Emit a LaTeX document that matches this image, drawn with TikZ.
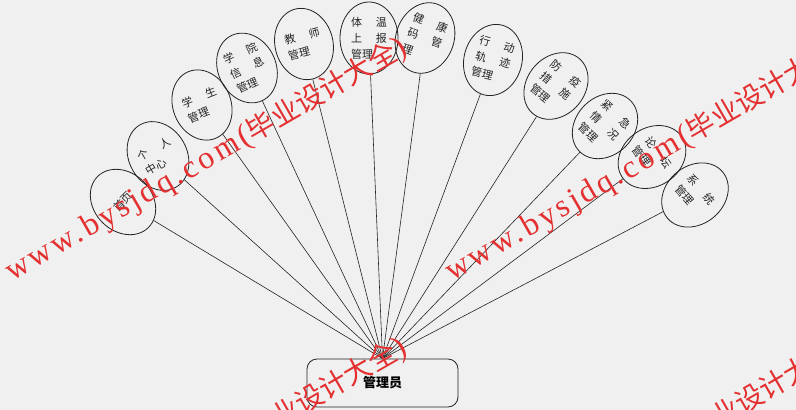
\documentclass[tikz,border=0pt]{standalone}
\usepackage{fontspec}
\setmainfont{Noto Sans CJK SC}
\newfontfamily\wmlat[LetterSpace=10]{Liberation Serif}
\newfontfamily\wmcjk{Noto Sans CJK SC}
\usetikzlibrary{shapes.geometric}
\definecolor{bg}{RGB}{240,240,240}
\definecolor{wm}{RGB}{228,48,48}
\definecolor{ln}{RGB}{35,35,35}
\begin{document}
\begin{tikzpicture}[x=1pt,y=-1pt,
  ent/.style={draw=ln, line width=0.8pt, ellipse, minimum width=58pt, minimum height=72pt, inner sep=0pt, align=left, font=\fontsize{11}{16}\selectfont, text=ln},
  con/.style={draw=ln, line width=0.6pt},
  wmark/.style={text=wm, anchor=base west, font=\fontsize{32}{32}\selectfont, inner sep=0pt}
]
\fill[bg] (0,0) rectangle (796,410);
\useasboundingbox (0,0) rectangle (796,410);
\node[draw=ln, line width=0.8pt, rounded corners=10pt, minimum width=151pt, minimum height=48pt, font=\fontsize{13}{13}\selectfont\bfseries] (admin) at (382.5,383) {管理员};
\node[ent, rotate=45] (e1) at (123,202) {首页};
\node[ent, rotate=30] (e2) at (158,156) {个\hspace{14pt}人\\中心};
\node[ent, rotate=22] (e3) at (202,105) {学\hspace{14pt}生\\管理};
\node[ent, rotate=25] (e4) at (247,68) {学\hspace{14pt}院\\信\hspace{14pt}息\\管理};
\node[ent, rotate=14] (e5) at (304,44) {教\hspace{14pt}师\\管理};
\node[ent, rotate=0] (e6) at (369,38) {体\hspace{14pt}温\\上\hspace{14pt}报\\管理};
\node[ent, rotate=-20] (e7) at (425,38) {健\hspace{14pt}康\\码\hspace{14pt}管\\理};
\node[ent, rotate=-15] (e8) at (493,60) {行\hspace{14pt}动\\轨\hspace{14pt}迹\\管理};
\node[ent, rotate=-40] (e9) at (556,86) {防\hspace{14pt}疫\\措\hspace{14pt}施\\管理};
\node[ent, rotate=-45] (e10) at (605,126) {紧\hspace{14pt}急\\情\hspace{14pt}况\\管理};
\node[ent, rotate=-55] (e11) at (652,157) {论\hspace{14pt}坛\\管理};
\node[ent, rotate=-50] (e12) at (695,195) {系\hspace{14pt}统\\管理};
\foreach \i in {1,...,12} \draw[con] (admin.north) -- (e\i);
\foreach \dx/\dy [count=\i] in {0/0,440/0,0/300,440/300}
  \node[wmark, rotate=30] (wm\i) at (12+\dx,282+\dy) {{\wmlat www.bysjdq.com(}{\wmcjk\fontsize{28}{28}\selectfont 毕业设计大全}{\wmlat )}};
\end{tikzpicture}
\end{document}
